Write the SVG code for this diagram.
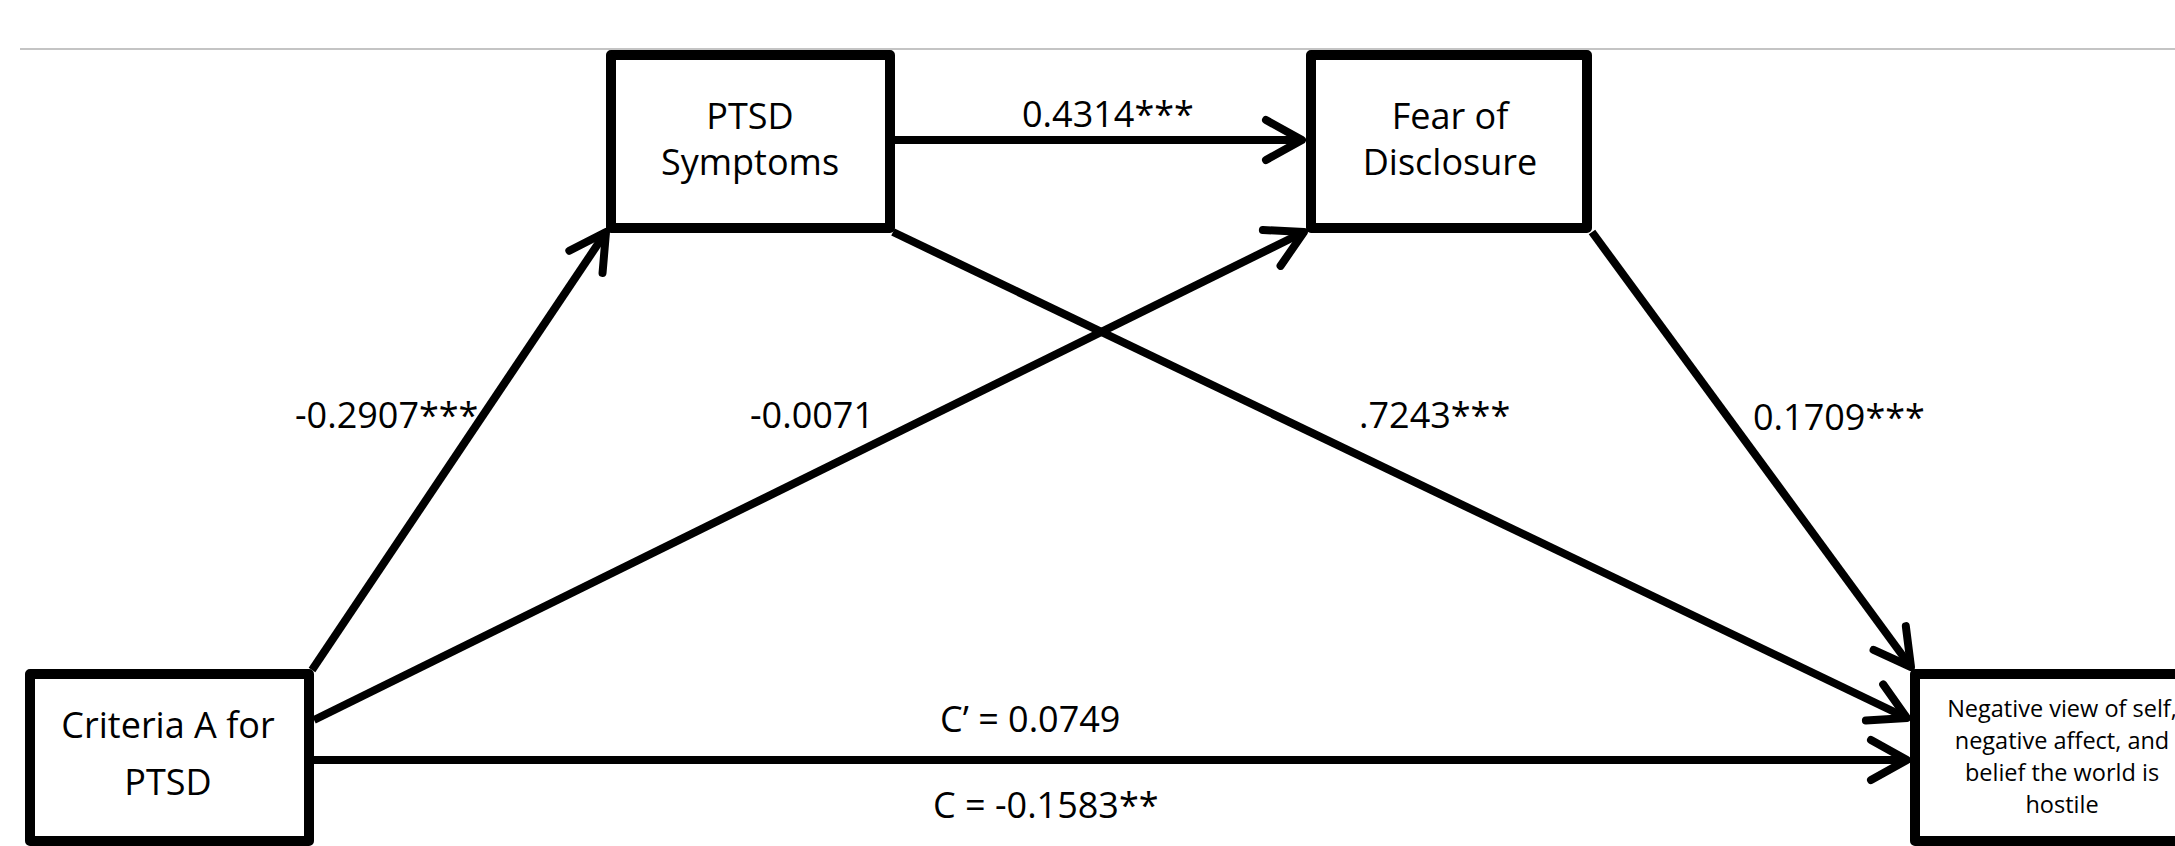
<svg xmlns="http://www.w3.org/2000/svg" width="2175" height="846" viewBox="0 0 2175 846">
<style>
.box{fill:#fff;stroke:#000;stroke-width:10;stroke-linejoin:round}
.lbl{font-family:"Open Sans","Liberation Sans",sans-serif;font-size:36px;fill:#000}
.nt{font-family:"Open Sans","Liberation Sans",sans-serif;font-size:36px;fill:#000;text-anchor:middle}
.sm{font-family:"Open Sans","Liberation Sans",sans-serif;font-size:23.5px;fill:#000;text-anchor:middle}
.conn{stroke:#000;stroke-width:8;fill:none;marker-end:url(#arr)}
</style>
<defs>
<marker id="arr" markerUnits="userSpaceOnUse" viewBox="-44 -28 50 56" refX="0" refY="0" markerWidth="50" markerHeight="56" orient="auto">
<path d="M-36,-20 L0,0 L-36,20" fill="none" stroke="#000" stroke-width="8" stroke-linecap="round" stroke-linejoin="round"/>
</marker>
</defs>
<rect width="2175" height="846" fill="#fff"/>
<line x1="20" y1="49" x2="2175" y2="49" stroke="#c4c4c4" stroke-width="2"/>
<g id="connectors">
<line class="conn" x1="312" y1="670" x2="606" y2="232"/>
<line class="conn" x1="314" y1="720" x2="1304" y2="232"/>
<line class="conn" x1="895" y1="140" x2="1302" y2="140"/>
<line class="conn" x1="893" y1="232" x2="1907" y2="718"/>
<line class="conn" x1="1592" y1="232" x2="1911" y2="667"/>
<line class="conn" x1="314" y1="760" x2="1907" y2="760"/>
<text class="lbl" x="295" y="428">-0.2907***</text>
<text class="lbl" x="750" y="428">-0.0071</text>
<text class="lbl" x="1359" y="428">.7243***</text>
<text class="lbl" x="1753" y="430">0.1709***</text>
<text class="lbl" x="1022" y="127">0.4314***</text>
<text class="lbl" x="940" y="732">C’ = 0.0749</text>
<text class="lbl" x="933" y="818">C = -0.1583**</text>
</g>
<g id="node-ptsd">
<rect class="box" x="611" y="55" width="279" height="173"/>
<text class="nt" x="750" y="129">PTSD</text>
<text class="nt" x="750" y="175">Symptoms</text>
</g>
<g id="node-fear">
<rect class="box" x="1311" y="55" width="276" height="173"/>
<text class="nt" x="1450" y="129">Fear of</text>
<text class="nt" x="1450" y="175">Disclosure</text>
</g>
<g id="node-criteria">
<rect class="box" x="30" y="674" width="279" height="167"/>
<text class="nt" x="168" y="738">Criteria A for</text>
<text class="nt" x="168" y="795">PTSD</text>
</g>
<g id="node-outcome">
<rect class="box" x="1915" y="674" width="300" height="167"/>
<text class="sm" x="2062" y="717">Negative view of self,</text>
<text class="sm" x="2062" y="749">negative affect, and</text>
<text class="sm" x="2062" y="781">belief the world is</text>
<text class="sm" x="2062" y="813">hostile</text>
</g>
</svg>
